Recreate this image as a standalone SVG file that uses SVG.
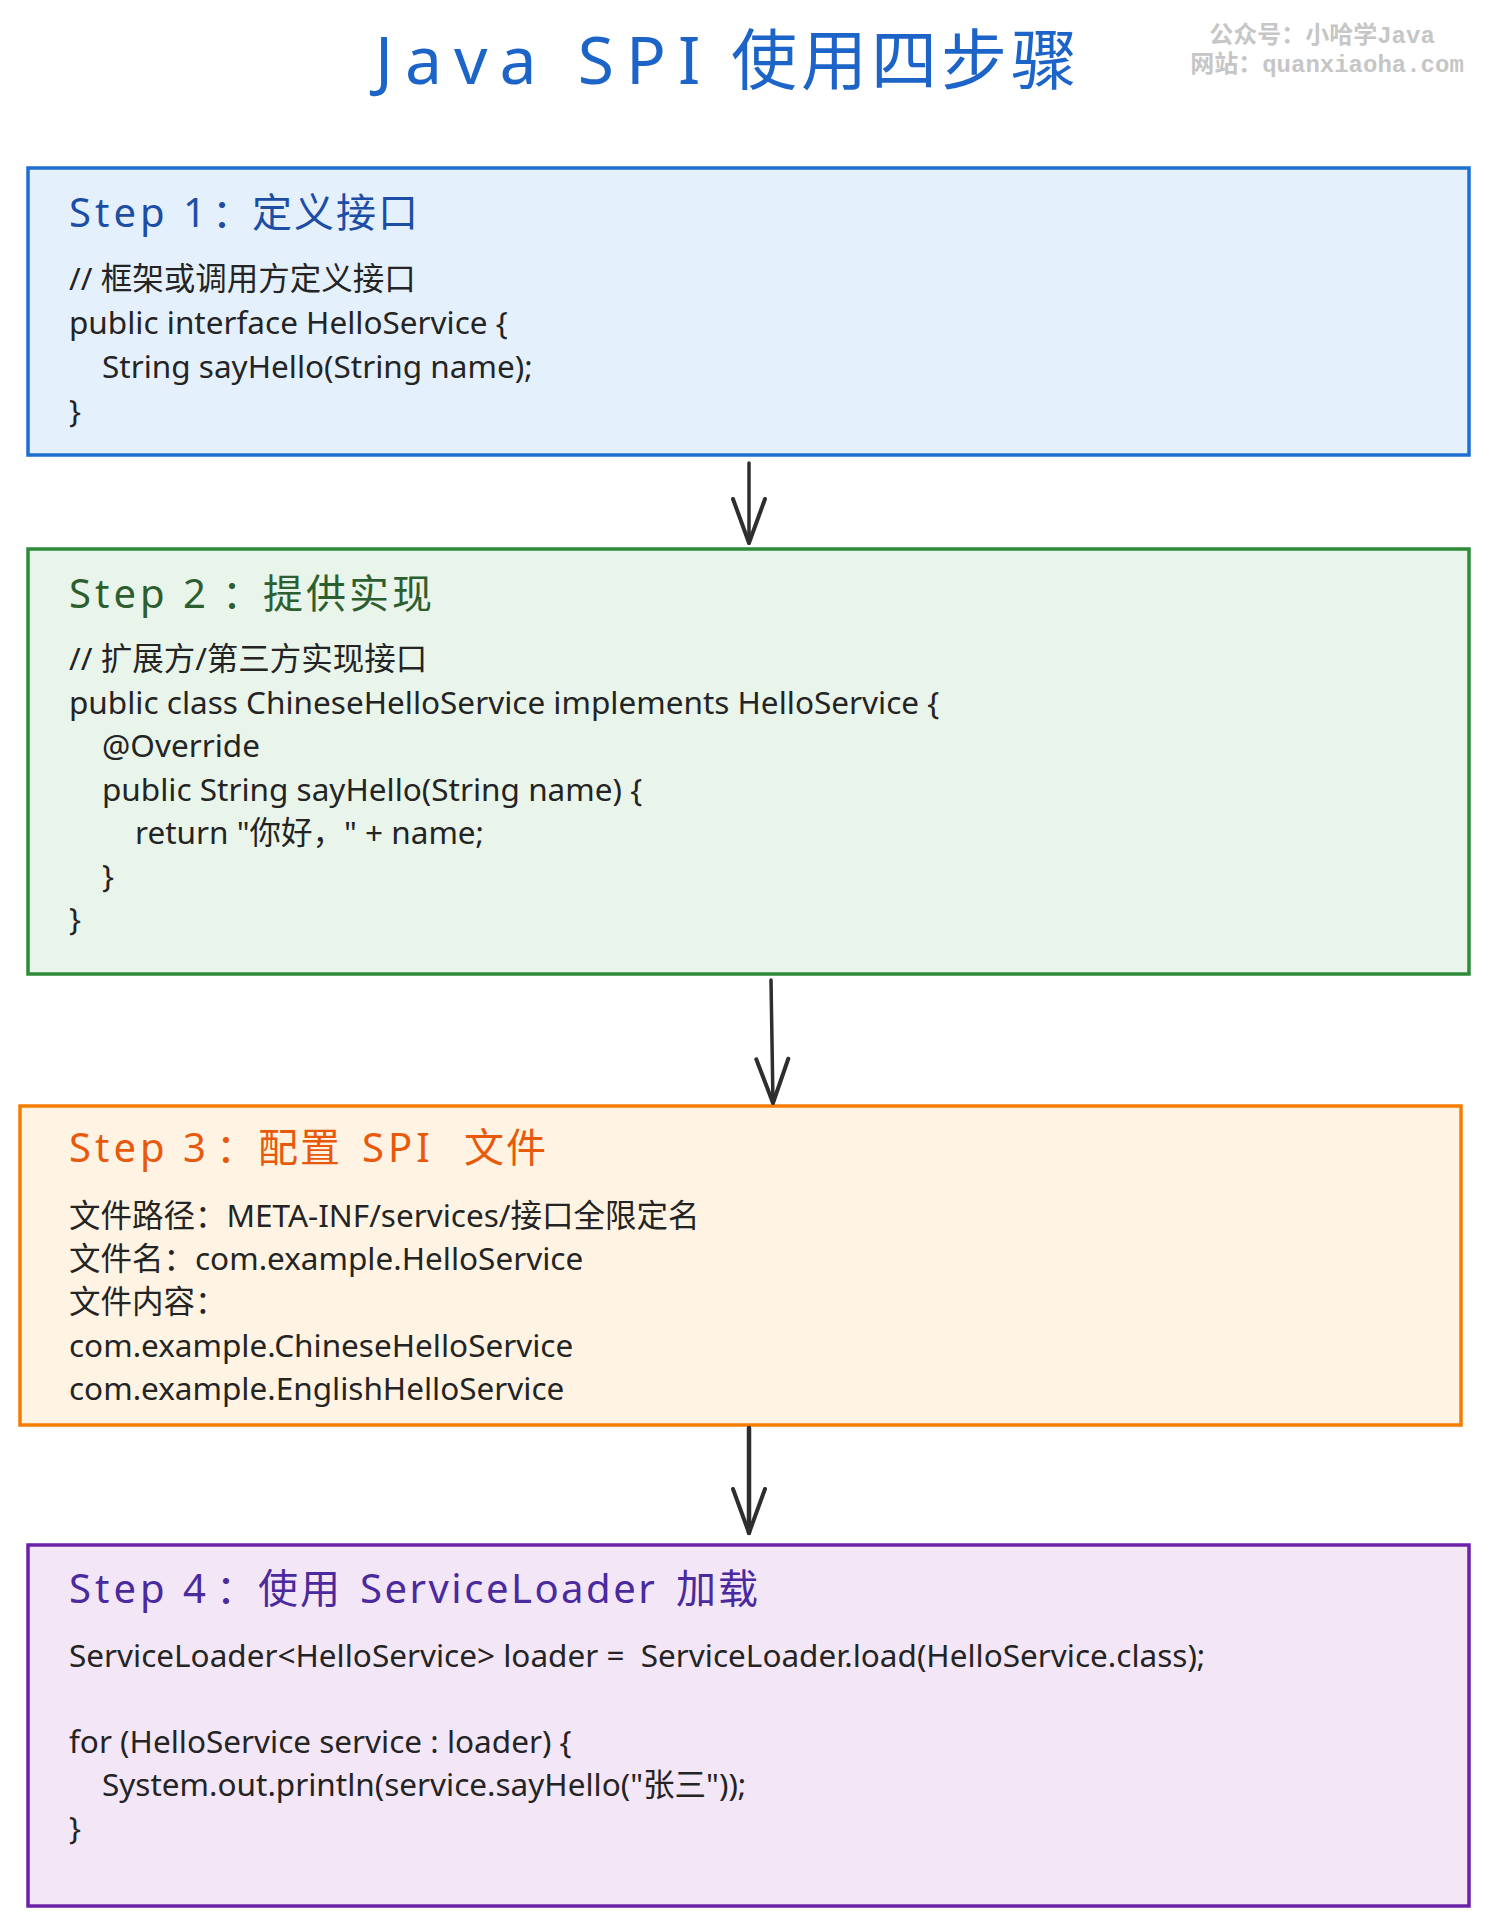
<svg xmlns="http://www.w3.org/2000/svg" width="1489" height="1926" viewBox="0 0 1489 1926">
<style>
.box{stroke-width:3.5}
.b1{fill:#e4f1fc;stroke:#1f6fd1}
.b2{fill:#e9f5ea;stroke:#2e8b3a}
.b3{fill:#fff4e3;stroke:#f57c00}
.b4{fill:#f3e6f6;stroke:#6c22a8}
.head{font-family:"Noto Sans","Noto Sans CJK SC",sans-serif;font-size:40px}
.lat{letter-spacing:4px}
.body{font-family:"Noto Sans","Noto Sans CJK SC",sans-serif;font-size:31.5px;fill:#242424;white-space:pre}
.wm{font-family:"Liberation Mono","Noto Sans CJK SC",monospace;font-size:24px;font-weight:bold;fill:#c6c6c6;text-anchor:middle}
.conn{fill:none;stroke:#2e2e2e;stroke-width:3.5;stroke-linecap:round}
</style>
<defs>
<marker id="arr" markerUnits="userSpaceOnUse" viewBox="-50 -20 60 40" refX="0" refY="0" markerWidth="60" markerHeight="40" orient="auto">
<path d="M-44,-16 L0,0 L-44,16" fill="none" stroke="#2e2e2e" stroke-width="4" stroke-linecap="round" stroke-linejoin="round"/>
</marker>
</defs>
<rect width="1489" height="1926" fill="#ffffff"/>

<g id="title">
<text y="84" font-family="Noto Sans, Noto Sans CJK SC, sans-serif" font-size="66" fill="#1d64c8"><tspan x="375" style="letter-spacing:12px">Java SPI</tspan><tspan x="731" style="letter-spacing:4px">使用四步骤</tspan></text>
</g>
<g id="watermark">
<text class="wm" x="1322" y="43">公众号：小哈学Java</text>
<text class="wm" x="1327" y="72">网站：quanxiaoha.com</text>
</g>

<g id="step1">
<rect class="box b1" x="28" y="168" width="1441" height="287"/>
<text class="head" y="227" fill="#1d4ea6"><tspan x="69" class="lat">Step 1</tspan><tspan x="212">：</tspan><tspan x="252" style="letter-spacing:2px">定义接口</tspan></text>
<text class="body" x="69" y="290">// 框架或调用方定义接口</text>
<text class="body" x="69" y="334">public interface HelloService {</text>
<text class="body" x="102" y="378">String sayHello(String name);</text>
<text class="body" x="69" y="422">}</text>
</g>

<g id="step2">
<rect class="box b2" x="28" y="549" width="1441" height="425"/>
<text class="head" y="608" fill="#2d5e2f"><tspan x="69" class="lat">Step 2</tspan><tspan x="222">：</tspan><tspan x="263" style="letter-spacing:3px">提供实现</tspan></text>
<text class="body" x="69" y="670">// 扩展方/第三方实现接口</text>
<text class="body" x="69" y="714">public class ChineseHelloService implements HelloService {</text>
<text class="body" x="102" y="757">@Override</text>
<text class="body" x="102" y="801">public String sayHello(String name) {</text>
<text class="body" x="135" y="844">return "你好，" + name;</text>
<text class="body" x="102" y="887">}</text>
<text class="body" x="69" y="930">}</text>
</g>

<g id="step3">
<rect class="box b3" x="20" y="1106" width="1441" height="319"/>
<text class="head" y="1162" fill="#e8590c"><tspan x="69" class="lat">Step 3</tspan><tspan x="216">：</tspan><tspan x="258" style="letter-spacing:2px">配置</tspan><tspan x="362" class="lat">SPI</tspan><tspan x="464" style="letter-spacing:2px">文件</tspan></text>
<text class="body" x="69" y="1227">文件路径：META-INF/services/接口全限定名</text>
<text class="body" x="69" y="1270">文件名：com.example.HelloService</text>
<text class="body" x="69" y="1313">文件内容：</text>
<text class="body" x="69" y="1357">com.example.ChineseHelloService</text>
<text class="body" x="69" y="1400">com.example.EnglishHelloService</text>
</g>

<g id="step4">
<rect class="box b4" x="28" y="1545" width="1441" height="361"/>
<text class="head" y="1603" fill="#4a2a9e"><tspan x="69" class="lat">Step 4</tspan><tspan x="216">：</tspan><tspan x="258" style="letter-spacing:2px">使用</tspan><tspan x="360" style="letter-spacing:2.5px">ServiceLoader</tspan><tspan x="676" style="letter-spacing:2px">加载</tspan></text>
<text class="body" x="69" y="1667">ServiceLoader&lt;HelloService&gt; loader =  ServiceLoader.load(HelloService.class);</text>
<text class="body" x="69" y="1753">for (HelloService service : loader) {</text>
<text class="body" x="102" y="1796">System.out.println(service.sayHello("张三"));</text>
<text class="body" x="69" y="1839">}</text>
</g>

<g id="connectors">
<path class="conn" d="M749,463 L749,543" marker-end="url(#arr)"/>
<path class="conn" d="M771,980 L773,1103" marker-end="url(#arr)"/>
<path class="conn" d="M749,1428 L749,1533" marker-end="url(#arr)" style="stroke-width:4.5"/>
</g>
</svg>
